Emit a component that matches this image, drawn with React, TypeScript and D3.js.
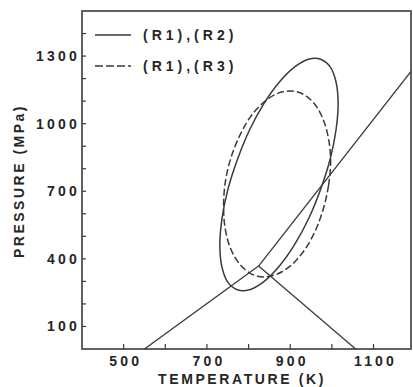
import React from "react";
import * as d3 from "d3";

const W = 413;
const H = 387;

// Temperature (K), Pressure (MPa) read along the (R1),(R2) curve
const solidT = [1015, 1010, 996, 973, 944, 910, 873, 836, 802, 773, 750, 736, 731, 736, 750, 773, 802, 836, 873, 910, 944, 973, 996, 1010];
const solidP = [1090, 973, 843, 709, 578, 462, 366, 298, 263, 263, 297, 364, 459, 576, 706, 840, 971, 1087, 1183, 1251, 1286, 1286, 1252, 1185];

// Temperature (K), Pressure (MPa) read along the (R1),(R3) curve
const dashedT = [997, 992, 979, 959, 933, 902, 868, 835, 804, 778, 757, 744, 740, 744, 757, 778, 804, 835, 868, 902, 933, 959, 979, 992];
const dashedP = [833, 726, 619, 520, 436, 371, 332, 320, 336, 378, 445, 532, 632, 739, 845, 944, 1029, 1093, 1133, 1145, 1129, 1086, 1019, 933];

// Univariant lines meeting at the invariant point
const invT = 824;
const invP = 368;
const lineEndsT = [1190, 550, 1057];
const lineEndsP = [1232, 0, 0];

const xMajor = [500, 700, 900, 1100];
const xMinor = [600, 800, 1000];
const yMajor = [100, 400, 700, 1000, 1300];
const yMinor = [200, 300, 500, 600, 800, 900, 1100, 1200, 1400];

const legendLabels = ["(R1),(R2)", "(R1),(R3)"];

const left = 82;
const right = 411;
const top = 11;
const bottom = 349;

export default function App() {
  const x = d3.scaleLinear().domain([400, 1190]).range([left, right]);
  const y = d3.scaleLinear().domain([0, 1500]).range([bottom, top]);

  const closed = d3
    .line<[number, number]>()
    .x((d) => x(d[0]))
    .y((d) => y(d[1]))
    .curve(d3.curveCatmullRomClosed.alpha(0.5));
  const straight = d3
    .line<[number, number]>()
    .x((d) => x(d[0]))
    .y((d) => y(d[1]));

  const solidPts: [number, number][] = solidT.map((t, i) => [t, solidP[i]]);
  const dashedPts: [number, number][] = dashedT.map((t, i) => [t, dashedP[i]]);

  const stroke = "#3a3a3a";
  const font = "'Liberation Sans', Arial, Helvetica, sans-serif";
  const textColor = "#262626";

  return (
    <div style={{ position: "absolute", left: 0, top: 0 }}>
      <svg width={W} height={H} style={{ display: "block", background: "#fff" }}>
        <defs>
          <clipPath id="plotclip">
            <rect x={left} y={top} width={right - left} height={bottom - top} />
          </clipPath>
        </defs>
        {/* frame */}
        <rect x={left} y={top} width={right - left} height={bottom - top} fill="none" stroke={stroke} strokeWidth={1.6} />
        {/* ticks */}
        {[...xMajor, ...xMinor].map((t) => (
          <line key={"xt" + t} x1={x(t)} x2={x(t)} y1={bottom} y2={bottom - 5} stroke={stroke} strokeWidth={1.2} />
        ))}
        {[...yMajor, ...yMinor].map((t) => (
          <line key={"yt" + t} x1={left} x2={left + 4} y1={y(t)} y2={y(t)} stroke={stroke} strokeWidth={1.2} />
        ))}
        {xMajor.map((t) => (
          <text key={"xl" + t} x={x(t) + 2} y={366} textAnchor="middle" fontFamily={font} fontSize={14} fontWeight="bold" letterSpacing={3.2} fill={textColor}>
            {t}
          </text>
        ))}
        {yMajor.map((t) => (
          <text key={"yl" + t} x={80} y={y(t) + 5} textAnchor="end" fontFamily={font} fontSize={14} fontWeight="bold" letterSpacing={3.2} fill={textColor}>
            {t}
          </text>
        ))}
        <text x={242} y={384} textAnchor="middle" fontFamily={font} fontSize={14} fontWeight="bold" letterSpacing={2.6} fill={textColor}>
          TEMPERATURE (K)
        </text>
        <text
          transform={`translate(24,181) rotate(-90)`}
          textAnchor="middle"
          fontFamily={font}
          fontSize={14}
          fontWeight="bold"
          letterSpacing={2.5}
          fill={textColor}
        >
          PRESSURE (MPa)
        </text>
        {/* legend */}
        <line x1={95} x2={131} y1={35} y2={35} stroke={stroke} strokeWidth={1.4} />
        <line x1={95} x2={131} y1={66} y2={66} stroke={stroke} strokeWidth={1.4} strokeDasharray="8,3" />
        <text x={143} y={40} fontFamily={font} fontSize={14} fontWeight="bold" letterSpacing={4} fill={textColor}>
          {legendLabels[0]}
        </text>
        <text x={143} y={71} fontFamily={font} fontSize={14} fontWeight="bold" letterSpacing={4} fill={textColor}>
          {legendLabels[1]}
        </text>
        <g clipPath="url(#plotclip)" fill="none" stroke={stroke}>
          <path d={closed(solidPts) || ""} strokeWidth={1.5} />
          <path d={closed(dashedPts) || ""} strokeWidth={1.5} strokeDasharray="7,3" />
          {lineEndsT.map((t, i) => (
            <path key={"ln" + i} d={straight([[invT, invP], [t, lineEndsP[i]]]) || ""} strokeWidth={1.3} />
          ))}
        </g>
      </svg>
    </div>
  );
}
